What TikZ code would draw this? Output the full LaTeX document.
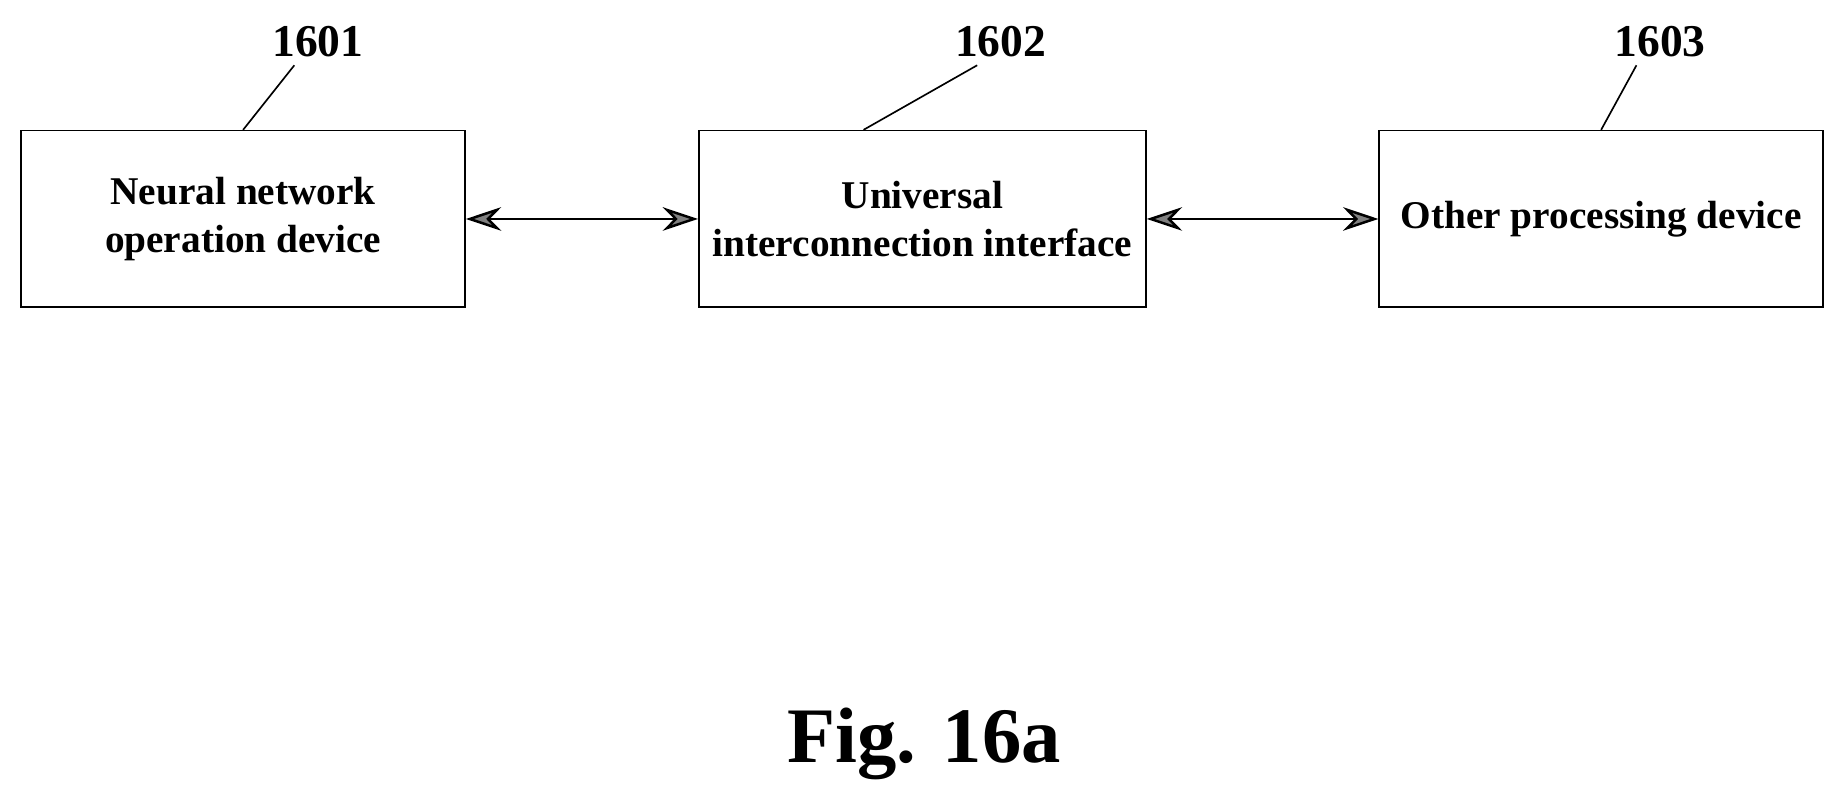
\documentclass[tikz,border=0pt]{standalone}
\usepackage{fontspec}
\setmainfont{Liberation Serif}
\usetikzlibrary{arrows.meta,positioning,calc}

\begin{document}
\begin{tikzpicture}
[   block/.style={draw,minimum width=3.77cm,minimum height=1.5cm,align=center,font=\bfseries\fontsize{9.5}{11.5}\selectfont},
    tag/.style={font=\bfseries\fontsize{11}{13}\selectfont},
    link/.style={{Stealth[length=3mm,width=2mm,fill=gray]}-{Stealth[length=3mm,width=2mm,fill=gray]},semithick}
]
    \useasboundingbox (0,0) rectangle (15.68,-6.85);
    \node[block] (NN) at (2.065,-1.86) {Neural network\\operation device};
    \node[block] (UI) at (7.835,-1.86) {Universal\\interconnection interface};
    \node[block] (OP) at (13.6,-1.86) {Other processing device};
    \node[tag] (N1) at (2.7,-0.35) {1601};
    \node[tag] (N2) at (8.5,-0.35) {1602};
    \node[tag] (N3) at (14.1,-0.35) {1603};
    \draw (NN.north) -- ($(N1.south)+(-0.2,0.05)$);
    \draw ($(UI.north)+(-0.5,0)$) -- ($(N2.south)+(-0.2,0.05)$);
    \draw (OP.north) -- ($(N3.south)+(-0.2,0.05)$);
    \draw[link] (NN) -- (UI);
    \draw[link] (UI) -- (OP);
    \node[font=\bfseries\fontsize{19}{22}\selectfont] (fig) at (7.85,-6.32) {Fig. 16a};
\end{tikzpicture}
\end{document}
